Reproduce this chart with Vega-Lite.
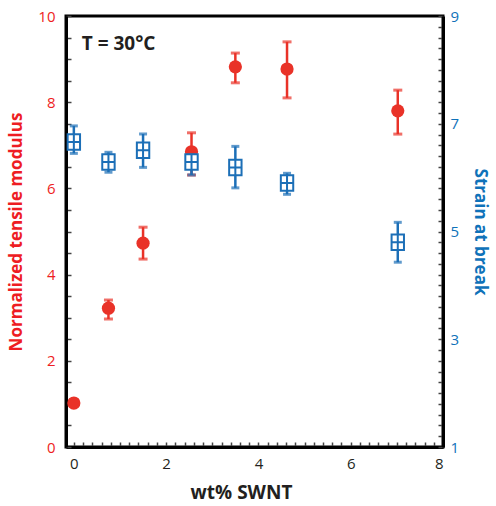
{
  "$schema": "https://vega.github.io/schema/vega-lite/v6.json",
  "width": 377,
  "height": 431,
  "autosize": "none",
  "padding": {"left": 66, "top": 16, "right": 53, "bottom": 59},
  "background": "white",
  "config": {
    "font": "Open Sans",
    "view": {"stroke": "black", "strokeWidth": 3},
    "axis": {"grid": false, "domainColor": "black", "domainWidth": 3, "tickColor": "#444", "tickWidth": 1.5}
  },
  "datasets": {
    "modulus": [
      {"wt": 0, "v": 1.02, "lo": 0.95, "hi": 1.1},
      {"wt": 0.75, "v": 3.22, "lo": 2.97, "hi": 3.41},
      {"wt": 1.5, "v": 4.73, "lo": 4.36, "hi": 5.1},
      {"wt": 2.55, "v": 6.85, "lo": 6.31, "hi": 7.29},
      {"wt": 3.5, "v": 8.82, "lo": 8.45, "hi": 9.14},
      {"wt": 4.62, "v": 8.77, "lo": 8.1, "hi": 9.4},
      {"wt": 7.02, "v": 7.8, "lo": 7.26, "hi": 8.28}
    ],
    "strain": [
      {"wt": 0, "v": 6.66, "lo": 6.45, "hi": 6.96},
      {"wt": 0.75, "v": 6.29, "lo": 6.1, "hi": 6.47},
      {"wt": 1.5, "v": 6.51, "lo": 6.19, "hi": 6.81},
      {"wt": 2.55, "v": 6.29, "lo": 6.05, "hi": 6.42},
      {"wt": 3.5, "v": 6.19, "lo": 5.81, "hi": 6.58},
      {"wt": 4.62, "v": 5.9, "lo": 5.69, "hi": 6.08},
      {"wt": 7.02, "v": 4.8, "lo": 4.43, "hi": 5.17}
    ],
    "note": [{"wt": 0.17, "v": 9.35, "label": "T = 30°C"}]
  },
  "encoding": {
    "x": {
      "field": "wt", "type": "quantitative",
      "scale": {"domain": [-0.17, 8], "nice": false, "zero": false},
      "axis": {
        "title": "wt% SWNT", "titleFontSize": 19, "titleFontWeight": "bold", "titleColor": "#231f20",
        "titlePadding": 12, "titleX": 175, "titleAlign": "center",
        "values": [0,0.2,0.4,0.6,0.8,1,1.2,1.4,1.6,1.8,2,2.2,2.4,2.6,2.8,3,3.2,3.4,3.6,3.8,4,4.2,4.4,4.6,4.8,5,5.2,5.4,5.6,5.8,6,6.2,6.4,6.6,6.8,7,7.2,7.4,7.6,7.8,8],
        "format": "~g",
        "labelExpr": "abs(datum.value % 2) < 0.01 ? datum.label : ''",
        "labelFontSize": 15, "labelColor": "#231f20", "labelPadding": 14,
        "tickSize": -5
      }
    }
  },
  "layer": [
    {
      "encoding": {
        "y": {
          "type": "quantitative",
          "scale": {"domain": [0, 10], "nice": false, "zero": false},
          "axis": {
            "orient": "left",
            "title": "Normalized tensile modulus", "titleColor": "#ee1d23", "titleFontSize": 17, "titleFontWeight": "bold",
            "titlePadding": 12,
            "values": [0,0.5,1,1.5,2,2.5,3,3.5,4,4.5,5,5.5,6,6.5,7,7.5,8,8.5,9,9.5,10],
            "format": "~g",
            "labelExpr": "abs(datum.value % 2) < 0.01 ? datum.label : ''",
            "labelColor": "#ee1d23", "labelFontSize": 15, "labelPadding": 16,
            "tickSize": -5
          }
        }
      },
      "layer": [
        {
          "data": {"name": "modulus"},
          "mark": {"type": "rule", "color": "#e93228", "strokeWidth": 2.5},
          "encoding": {"y": {"field": "lo"}, "y2": {"field": "hi"}}
        },
        {
          "data": {"name": "modulus"},
          "mark": {"type": "tick", "orient": "horizontal", "color": "#e93228", "size": 9, "thickness": 3},
          "encoding": {"y": {"field": "lo"}}
        },
        {
          "data": {"name": "modulus"},
          "mark": {"type": "tick", "orient": "horizontal", "color": "#e93228", "size": 9, "thickness": 3},
          "encoding": {"y": {"field": "hi"}}
        },
        {
          "data": {"name": "modulus"},
          "mark": {"type": "point", "shape": "circle", "filled": true, "color": "#e93228", "opacity": 1, "size": 175},
          "encoding": {"y": {"field": "v"}}
        },
        {
          "data": {"name": "note"},
          "mark": {"type": "text", "align": "left", "baseline": "middle", "fontSize": 19, "fontWeight": "bold", "color": "#231f20"},
          "encoding": {"y": {"field": "v"}, "text": {"field": "label"}}
        }
      ]
    },
    {
      "encoding": {
        "y": {
          "type": "quantitative",
          "scale": {"domain": [1, 9], "nice": false, "zero": false},
          "axis": {
            "orient": "right",
            "title": "Strain at break", "titleColor": "#0f72b9", "titleFontSize": 17, "titleFontWeight": "bold",
            "titleAngle": 90, "titlePadding": 12,
            "values": [1,1.2,1.4,1.6,1.8,2,2.2,2.4,2.6,2.8,3,3.2,3.4,3.6,3.8,4,4.2,4.4,4.6,4.8,5,5.2,5.4,5.6,5.8,6,6.2,6.4,6.6,6.8,7,7.2,7.4,7.6,7.8,8,8.2,8.4,8.6,8.8,9],
            "format": "~g",
            "labelExpr": "abs((datum.value - 1) % 2) < 0.01 ? datum.label : ''",
            "labelColor": "#0f72b9", "labelFontSize": 15, "labelPadding": 12,
            "tickSize": -5
          }
        }
      },
      "layer": [
        {
          "data": {"name": "strain"},
          "mark": {"type": "rule", "color": "#1c6fb7", "strokeWidth": 2.5},
          "encoding": {"y": {"field": "lo"}, "y2": {"field": "hi"}}
        },
        {
          "data": {"name": "strain"},
          "mark": {"type": "tick", "orient": "horizontal", "color": "#1c6fb7", "size": 8, "thickness": 3},
          "encoding": {"y": {"field": "lo"}}
        },
        {
          "data": {"name": "strain"},
          "mark": {"type": "tick", "orient": "horizontal", "color": "#1c6fb7", "size": 8, "thickness": 3},
          "encoding": {"y": {"field": "hi"}}
        },
        {
          "data": {"name": "strain"},
          "mark": {"type": "point", "shape": "M-0.8,-1H0.8V1H-0.8Z M-0.8,0H0.8 M0,-1V1", "filled": false, "fill": "white", "fillOpacity": 1, "stroke": "#1c6fb7", "strokeWidth": 2, "opacity": 1, "size": 240},
          "encoding": {"y": {"field": "v"}}
        }
      ]
    }
  ],
  "resolve": {"scale": {"y": "independent"}}
}
